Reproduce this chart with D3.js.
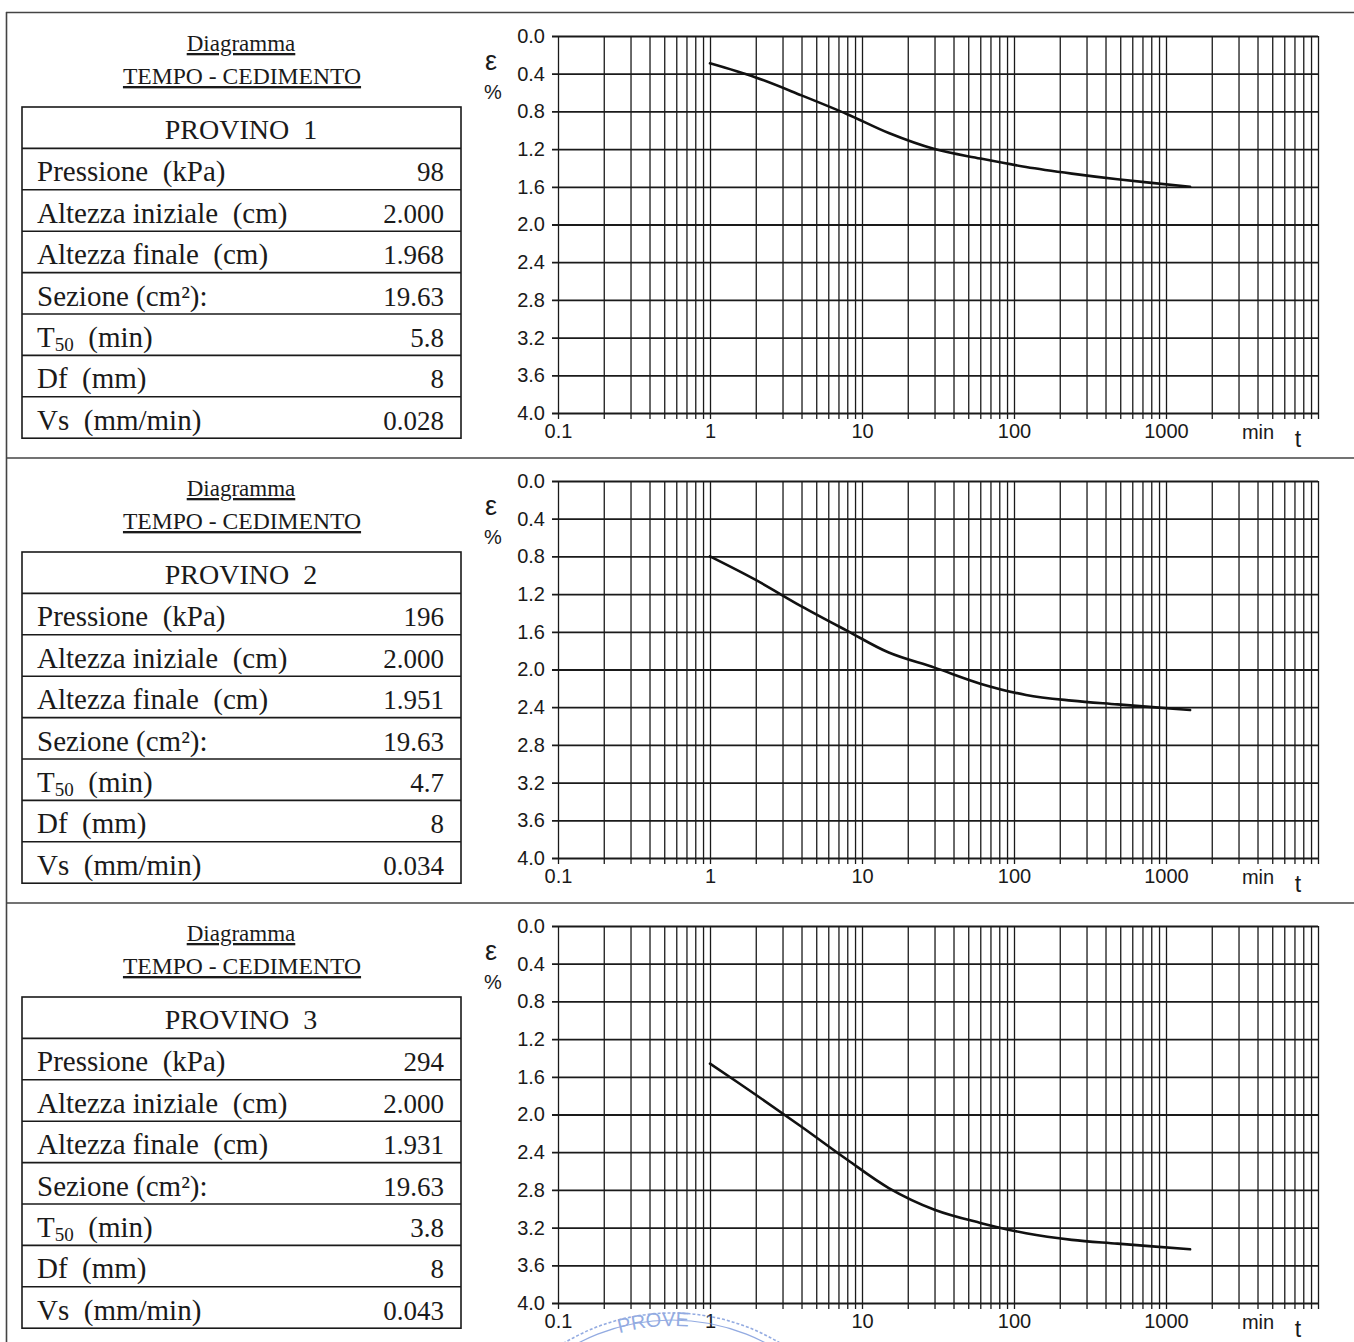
<!DOCTYPE html>
<html><head><meta charset="utf-8">
<script src="https://cdn.jsdelivr.net/npm/d3@7"></script>
<style>html,body{margin:0;padding:0;background:#fff;}svg{display:block;}text{white-space:pre;}</style>
</head><body>
<script>
// ---- data ----
const times = [1, 2, 4, 8, 15, 30, 60, 120, 240, 480, 1440];
const eps1 = [0.29, 0.44, 0.63, 0.83, 1.03, 1.20, 1.30, 1.39, 1.46, 1.52, 1.60];
const eps2 = [0.80, 1.05, 1.33, 1.59, 1.82, 1.98, 2.15, 2.27, 2.33, 2.37, 2.43];
const eps3 = [1.46, 1.79, 2.13, 2.48, 2.78, 3.01, 3.15, 3.26, 3.33, 3.37, 3.43];
const provini = ["PROVINO  1", "PROVINO  2", "PROVINO  3"];
const rowLabels = ["Pressione  (kPa)", "Altezza iniziale  (cm)", "Altezza finale  (cm)", "Sezione (cm²):", "T|50|  (min)", "Df  (mm)", "Vs  (mm/min)"];
const values1 = ["98", "2.000", "1.968", "19.63", "5.8", "8", "0.028"];
const values2 = ["196", "2.000", "1.951", "19.63", "4.7", "8", "0.034"];
const values3 = ["294", "2.000", "1.931", "19.63", "3.8", "8", "0.043"];
const yTicks = [0.0, 0.4, 0.8, 1.2, 1.6, 2.0, 2.4, 2.8, 3.2, 3.6, 4.0];
const xLabelValues = [0.1, 1, 10, 100, 1000];
const xDomain = [0.1, 10000];
const yDomain = [0, 4];

const series = [eps1, eps2, eps3];
const valueSets = [values1, values2, values3];

const W = 1354, H = 1342;
const svg = d3.select("body").append("svg").attr("width", W).attr("height", H);
const ink = "#1a1a1a";
const serif = "Liberation Serif, Times New Roman, serif";
const sans = "Liberation Sans, Arial, sans-serif";

// outer frame + separators
const panelH = 445;
svg.append("line").attr("x1", 6).attr("x2", W).attr("y1", 12.5).attr("y2", 12.5).attr("stroke", "#444").attr("stroke-width", 1.6);
svg.append("line").attr("x1", 6.5).attr("x2", 6.5).attr("y1", 12).attr("y2", H).attr("stroke", "#444").attr("stroke-width", 1.6);
[1, 2].forEach(i => {
  svg.append("line").attr("x1", 6).attr("x2", W).attr("y1", 12.5 + i * panelH + 0.5).attr("y2", 12.5 + i * panelH + 0.5)
    .attr("stroke", "#444").attr("stroke-width", 1.6);
});

const x = d3.scaleLog().domain(xDomain).range([558, 1318]);
const gridX = x.ticks(); // 0.1 .. 10000, 1-9 per decade

series.forEach((eps, i) => {
  const off = i * panelH;
  const g = svg.append("g");

  // ---- left block ----
  g.append("text").attr("x", 241).attr("y", 51 + off).attr("text-anchor", "middle")
    .attr("font-family", serif).attr("font-size", 23)
    .attr("text-decoration", "underline").attr("fill", ink).text("Diagramma");
  g.append("text").attr("x", 242).attr("y", 84 + off).attr("text-anchor", "middle")
    .attr("font-family", serif).attr("font-size", 23.6)
    .attr("text-decoration", "underline").attr("fill", ink).text("TEMPO - CEDIMENTO");

  const tx0 = 22, tx1 = 461, ty0 = 107 + off, rowH = 41.4;
  const rows = [provini[i]].concat(rowLabels);
  g.append("rect").attr("x", tx0).attr("y", ty0).attr("width", tx1 - tx0).attr("height", rowH * rows.length)
    .attr("fill", "none").attr("stroke", ink).attr("stroke-width", 1.6);
  d3.range(1, rows.length).forEach(r => {
    g.append("line").attr("x1", tx0).attr("x2", tx1).attr("y1", ty0 + r * rowH).attr("y2", ty0 + r * rowH)
      .attr("stroke", ink).attr("stroke-width", 1.6);
  });
  g.append("text").attr("x", 241).attr("y", ty0 + 32).attr("text-anchor", "middle")
    .attr("font-family", serif).attr("font-size", 28).attr("fill", ink).text(rows[0]);
  rowLabels.forEach((lab, r) => {
    const yy = ty0 + (r + 1) * rowH + 33;
    const t = g.append("text").attr("x", 37).attr("y", yy).attr("font-family", serif).attr("font-size", 29).attr("fill", ink);
    if (lab.includes("|")) {
      const parts = lab.split("|");
      t.append("tspan").text(parts[0]);
      t.append("tspan").attr("font-size", 19).attr("dy", 4).text(parts[1]);
      t.append("tspan").attr("dy", -4).text(parts[2]);
    } else t.text(lab);
    g.append("text").attr("x", 444).attr("y", yy).attr("text-anchor", "end").attr("font-family", serif)
      .attr("font-size", 27).attr("fill", ink).text(valueSets[i][r]);
  });

  // ---- chart ----
  const y = d3.scaleLinear().domain(yDomain).range([36 + off, 413 + off]);

  const xAxis = d3.axisBottom(x).tickValues(gridX)
    .tickFormat(d => xLabelValues.includes(d) ? String(d) : "")
    .tickSizeInner(-(419 - 36)).tickSizeOuter(0).tickPadding(5);
  const xa = g.append("g").attr("transform", `translate(0,${419 + off})`).call(xAxis);
  xa.select(".domain").remove();
  xa.selectAll(".tick line").attr("stroke", ink).attr("stroke-width", 1.3);
  xa.selectAll(".tick text").attr("font-family", sans).attr("font-size", 20).attr("fill", ink);

  const yAxis = d3.axisLeft(y).tickValues(yTicks).tickFormat(d3.format(".1f"))
    .tickSizeInner(-(1318 - 552)).tickSizeOuter(0).tickPadding(7);
  const ya = g.append("g").attr("transform", "translate(552,0)").call(yAxis);
  ya.select(".domain").remove();
  ya.selectAll(".tick line").attr("stroke", ink).attr("stroke-width", 1.8);
  ya.selectAll(".tick text").attr("font-family", sans).attr("font-size", 20).attr("fill", ink);

  g.append("text").attr("x", 1258).attr("y", 439 + off).attr("text-anchor", "middle")
    .attr("font-family", sans).attr("font-size", 20).attr("fill", ink).text("min");
  g.append("text").attr("x", 1298).attr("y", 447 + off).attr("text-anchor", "middle")
    .attr("font-family", sans).attr("font-size", 23).attr("fill", ink).text("t");
  g.append("text").attr("x", 491).attr("y", 70 + off).attr("text-anchor", "middle")
    .attr("font-family", sans).attr("font-size", 27).attr("fill", ink).text("ε");
  g.append("text").attr("x", 493).attr("y", 99 + off).attr("text-anchor", "middle")
    .attr("font-family", sans).attr("font-size", 20).attr("fill", ink).text("%");

  const data = times.map((t, k) => ({ t, e: eps[k] }));
  const line = d3.line().x(d => x(d.t)).y(d => y(d.e)).curve(d3.curveCatmullRom.alpha(0.5));
  g.append("path").datum(data).attr("d", line).attr("fill", "none").attr("stroke", "#111").attr("stroke-width", 2.6)
    .attr("stroke-linejoin", "round").attr("stroke-linecap", "round");
});

// partial stamp at bottom
const stamp = svg.append("g").attr("opacity", 0.75);
const sc = [672, 1522];
stamp.append("circle").attr("cx", sc[0]).attr("cy", sc[1]).attr("r", 209).attr("fill", "none")
  .attr("stroke", "#6f8fd8").attr("stroke-width", 1.6).attr("stroke-dasharray", "3,2");
stamp.append("circle").attr("cx", sc[0]).attr("cy", sc[1]).attr("r", 202).attr("fill", "none")
  .attr("stroke", "#6f8fd8").attr("stroke-width", 1.2);
const arcR = 196;
stamp.append("path").attr("id", "stampArc").attr("fill", "none")
  .attr("d", `M ${sc[0] - arcR} ${sc[1]} A ${arcR} ${arcR} 0 0 1 ${sc[0] + arcR} ${sc[1]}`);
stamp.append("text").attr("font-family", sans).attr("font-size", 20)
  .attr("fill", "#6f8fd8").append("textPath").attr("href", "#stampArc").attr("startOffset", "47%")
  .attr("text-anchor", "middle").text("PROVE");
</script>
</body></html>
